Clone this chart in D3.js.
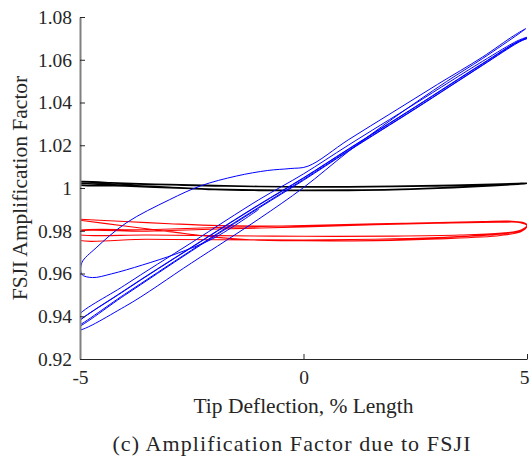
<!DOCTYPE html>
<html>
<head>
<meta charset="utf-8">
<script src="https://cdn.jsdelivr.net/npm/d3@7"></script>
<style>
  body { margin: 0; background: #fff; }
  svg text { font-family: 'Liberation Serif', 'Times New Roman', serif; fill: #262626; }
</style>
</head>
<body>
<div id="chart"></div>
<script>
// Axis ticks
const xTicks = [-5, 0, 5];
const xTickLabels = ['-5', '0', '5'];
const yTicks = [0.92, 0.94, 0.96, 0.98, 1.0, 1.02, 1.04, 1.06, 1.08];
const yTickLabels = ['0.92', '0.94', '0.96', '0.98', '1', '1.02', '1.04', '1.06', '1.08'];

// Black trace (x = tip deflection, y = amplification)
const blackTrace = [
  [-5.1, 1.0030], [-4, 1.0022], [-3, 1.0016], [-2, 1.0011], [-1, 1.0007], [0, 1.0006],
  [1, 1.0006], [2, 1.0008], [3, 1.0011], [4, 1.0016], [4.8, 1.0021], [5.0, 1.0022],
  [4.8, 1.0019], [4, 1.0009], [3, 1.0000], [2, 0.9993], [1, 0.9990], [0, 0.9989],
  [-1, 0.9990], [-2, 0.9994], [-3, 1.0001], [-4, 1.0010], [-5.1, 1.0018],
  [-5.1, 1.0027], [-4, 1.0020], [-3, 1.0015], [-2, 1.0010], [-1, 1.0007], [0, 1.0005],
  [1, 1.0005], [2, 1.0007], [3, 1.0010], [4, 1.0015], [4.8, 1.0020], [5.0, 1.0021],
  [4.8, 1.0018], [4, 1.0008], [3, 0.9999], [2, 0.9992], [1, 0.9989], [0, 0.9988],
  [-1, 0.9989], [-2, 0.9993], [-3, 1.0003], [-4, 1.0013], [-5.1, 1.0022]
];

// Red trace
const redTrace = [
  [-5.1, 0.9855], [-4, 0.9843], [-3, 0.9833], [-1.9, 0.9824], [-0.5, 0.9822], [1, 0.9828],
  [2.5, 0.9836], [4, 0.9843], [4.6, 0.9845], [4.9, 0.9840], [5.0, 0.9828], [4.88, 0.9805],
  [4.5, 0.9790], [3.5, 0.9780], [2, 0.9775], [0, 0.9774], [-2, 0.9777], [-3.5, 0.9780], [-5.1, 0.9786],
  [-5.1, 0.9798], [-3.5, 0.9805], [-1.9, 0.9815], [0, 0.9824], [1.6, 0.9832], [3, 0.9838],
  [4.4, 0.9843], [4.85, 0.9840], [5.0, 0.9827], [4.88, 0.9802], [4.4, 0.9784], [3, 0.9768],
  [1.6, 0.9760], [0, 0.9757], [-1.9, 0.9758], [-3.5, 0.9760], [-5.1, 0.9762],
  [-5.1, 0.9790], [-3.5, 0.9798], [-1.9, 0.9808], [0, 0.9818], [1.6, 0.9828], [3, 0.9835],
  [4.4, 0.9840], [4.85, 0.9838], [5.0, 0.9824], [4.88, 0.9798], [4.4, 0.9778], [3, 0.9762],
  [1.6, 0.9754], [0, 0.9753], [-1.2, 0.9758], [-2, 0.9770], [-3, 0.9796], [-4, 0.9822], [-5.1, 0.9852]
];

// Blue trace: start-up ellipse, one wide loop, then narrow loops
const blueTrace = [
  [-1.0, 0.9900], [-2.0, 0.9766], [-2.85, 0.9692], [-3.6, 0.9640], [-4.3, 0.9598], [-4.72, 0.9581],
  [-4.96, 0.9596], [-4.96, 0.9650], [-4.64, 0.9720], [-3.97, 0.9836], [-3.0, 0.9945], [-2.3, 1.0010],
  [-1.5, 1.0056], [-0.8, 1.0082], [-0.3, 1.0091], [0.1, 1.0102],
  [1, 1.0225], [2, 1.0355], [3, 1.0485], [4, 1.0612], [4.7, 1.0712], [4.97, 1.0745], [4.82, 1.0722],
  [4, 1.0605], [3.2, 1.0498], [2, 1.0325], [1, 1.0170], [0, 1.0002], [-1, 0.9855], [-2.5, 0.9650],
  [-4, 0.9445], [-5.1, 0.9335],
  [-5.1, 0.9388], [-4, 0.9545], [-2.5, 0.9745], [-1, 0.9945], [0, 1.0066], [1, 1.0200], [2.5, 1.0395],
  [4, 1.0592], [4.8, 1.0690], [5.0, 1.0705], [4.8, 1.0684], [4, 1.0575], [2.5, 1.0372], [1, 1.0175],
  [0, 1.0040], [-1, 0.9910], [-2.5, 0.9710], [-4, 0.9503], [-5.1, 0.9352],
  [-5.1, 0.9362], [-4, 0.9522], [-2.5, 0.9724], [-1, 0.9922], [0, 1.0048], [1, 1.0182], [2.5, 1.0380],
  [4, 1.0582], [4.8, 1.0685], [5.0, 1.0700], [4.8, 1.0680], [4, 1.0573], [2.5, 1.0370], [1, 1.0172],
  [0, 1.0036], [-1, 0.9906], [-2.5, 0.9706], [-4, 0.9498], [-5.1, 0.9346],
  [-5.1, 0.9360], [-4, 0.9520], [-2.5, 0.9722], [-1, 0.9920], [0, 1.0046], [1, 1.0180], [2.5, 1.0378],
  [4, 1.0580], [4.8, 1.0684], [5.0, 1.0699]
];

const width = 530, height = 457;
const svg = d3.select('#chart').append('svg')
  .attr('width', width)
  .attr('height', height);

const x = d3.scaleLinear().domain([-5, 5]).range([80, 527]);
const y = d3.scaleLinear().domain([0.92, 1.08]).range([359, 17]);

svg.append('clipPath').attr('id', 'plot-clip')
  .append('rect')
  .attr('x', x(-5)).attr('y', y(1.08))
  .attr('width', x(5) - x(-5)).attr('height', y(0.92) - y(1.08));

const line = d3.line()
  .x(d => x(d[0]))
  .y(d => y(d[1]))
  .curve(d3.curveCatmullRom.alpha(0.5));

const traces = [
  { data: blackTrace, color: '#000000', w: 1.6 },
  { data: redTrace, color: '#ff0000', w: 1.1 },
  { data: blueTrace, color: '#0000ff', w: 1 }
];

svg.append('g')
  .attr('clip-path', 'url(#plot-clip)')
  .attr('fill', 'none')
  .selectAll('path')
  .data(traces)
  .join('path')
  .attr('d', d => line(d.data))
  .attr('stroke', d => d.color)
  .attr('stroke-width', d => d.w)
  .attr('stroke-linejoin', 'round');

// Axes, ticks pointing inward
const xAxis = svg.append('g')
  .attr('transform', `translate(0,${y(0.92)})`)
  .call(d3.axisBottom(x).tickValues(xTicks)
    .tickFormat((d, i) => xTickLabels[i])
    .tickSize(-5).tickSizeOuter(0).tickPadding(11));

const yAxis = svg.append('g')
  .attr('transform', `translate(${x(-5)},0)`)
  .call(d3.axisLeft(y).tickValues(yTicks)
    .tickFormat((d, i) => yTickLabels[i])
    .tickSize(-5).tickSizeOuter(0).tickPadding(8));

svg.selectAll('.tick line').attr('stroke', '#262626');
svg.selectAll('.tick text').style('font-size', '19.5px').attr('fill', '#262626');
xAxis.selectAll('.tick text').filter(d => d === 5).attr('dx', -3);
xAxis.select('.domain').attr('stroke', '#262626');
yAxis.select('.domain').attr('stroke', '#808080').attr('stroke-width', 2);

svg.append('text')
  .attr('x', x(0)).attr('y', 413)
  .attr('text-anchor', 'middle')
  .style('font-size', '21.5px')
  .text('Tip Deflection, % Length');

svg.append('text')
  .attr('transform', `translate(27,${y(1.0)}) rotate(-90)`)
  .attr('text-anchor', 'middle')
  .style('font-size', '21.5px')
  .text('FSJI Amplification Factor');

svg.append('text')
  .attr('x', 292).attr('y', 451)
  .attr('text-anchor', 'middle')
  .style('font-size', '22px')
  .style('letter-spacing', '1.1px')
  .text('(c) Amplification Factor due to FSJI');
</script>
</body>
</html>
